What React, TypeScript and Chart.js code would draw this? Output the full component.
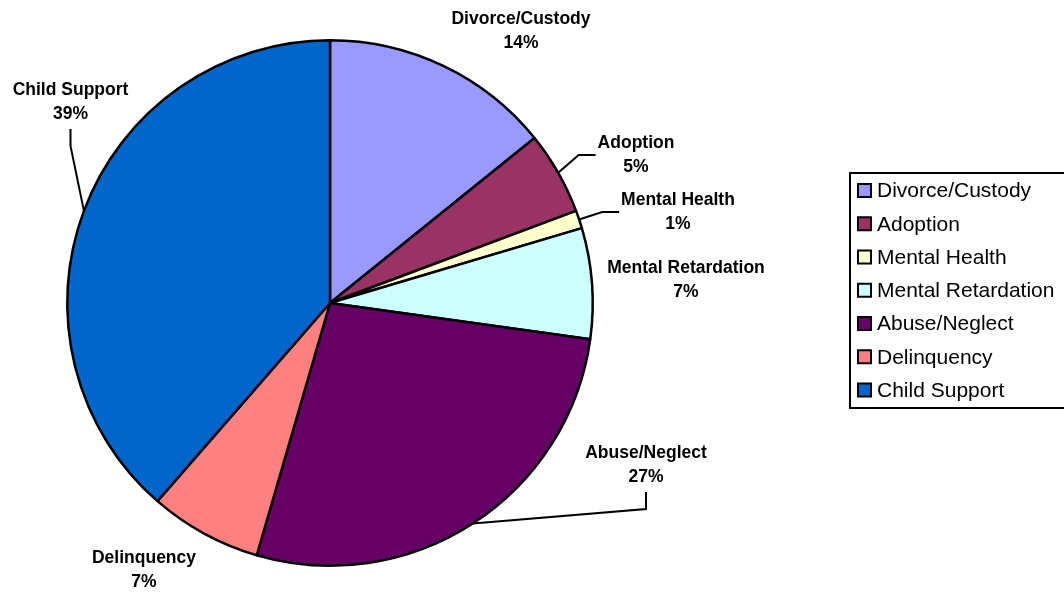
import React, { useEffect, useRef } from 'react';
import { Chart, registerables } from 'chart.js';

Chart.register(...registerables);

const categories = [
  'Divorce/Custody',
  'Adoption',
  'Mental Health',
  'Mental Retardation',
  'Abuse/Neglect',
  'Delinquency',
  'Child Support',
];
const values = [14.2, 5.1, 1.1, 6.8, 27.3, 6.9, 38.6];
const colors = ['#9999FF', '#993366', '#FFFFCC', '#CCFFFF', '#660066', '#FF8080', '#0066CC'];

// label block centre offsets from the pie centre, and leader style
const labelLayout = [
  { dx: 191, dy: -272, leader: null },
  { dx: 306, dy: -148, leader: 'left' },
  { dx: 348, dy: -91, leader: 'left' },
  { dx: 356, dy: -23, leader: null },
  { dx: 316, dy: 162, leader: 'bottom' },
  { dx: -186, dy: 267, leader: null },
  { dx: -259.5, dy: -201, leader: 'bottom' },
];

const FONT = '"Liberation Sans", Arial, sans-serif';

const labelPlugin = {
  id: 'sliceLabels',
  afterDatasetsDraw(chart: any) {
    const ctx = chart.ctx;
    const meta = chart.getDatasetMeta(0);
    const data = chart.data.datasets[0].data as number[];
    const total = data.reduce((a, b) => a + b, 0);
    ctx.save();
    ctx.font = `bold 17.5px ${FONT}`;
    ctx.fillStyle = '#000';
    ctx.textAlign = 'center';
    ctx.textBaseline = 'middle';
    meta.data.forEach((arc: any, i: number) => {
      const { x, y, startAngle, endAngle, outerRadius } = arc.getProps(
        ['x', 'y', 'startAngle', 'endAngle', 'outerRadius'],
        true
      );
      const lay = labelLayout[i];
      const cx = x + lay.dx;
      const cy = y + lay.dy;
      const name = chart.data.labels[i] as string;
      const pct = Math.round((data[i] / total) * 100) + '%';
      ctx.fillText(name, cx, cy - 12);
      ctx.fillText(pct, cx, cy + 12);
      if (lay.leader) {
        const mid = (startAngle + endAngle) / 2;
        const ex = x + Math.cos(mid) * outerRadius;
        const ey = y + Math.sin(mid) * outerRadius;
        let endX: number, endY: number, elbX: number, elbY: number;
        if (lay.leader === 'left') {
          const w = ctx.measureText(name).width;
          endX = cx - w / 2 - 2;
          endY = cy;
          elbX = endX - 17;
          elbY = endY;
        } else {
          endX = cx;
          endY = cy + 27;
          elbX = endX;
          elbY = endY + 17;
        }
        ctx.beginPath();
        ctx.strokeStyle = '#000';
        ctx.lineWidth = 2;
        ctx.moveTo(ex, ey);
        ctx.lineTo(elbX, elbY);
        ctx.lineTo(endX, endY);
        ctx.stroke();
      }
    });
    ctx.restore();
  },
};

const legendPlugin = {
  id: 'boxLegend',
  afterDraw(chart: any) {
    const ctx = chart.ctx;
    const labels = chart.data.labels as string[];
    const bg = chart.data.datasets[0].backgroundColor as string[];
    const left = 850;
    const top = 173;
    const height = 235;
    ctx.save();
    ctx.lineWidth = 2;
    ctx.strokeStyle = '#000';
    ctx.strokeRect(left, top, 260, height);
    ctx.font = `21px ${FONT}`;
    ctx.textBaseline = 'middle';
    ctx.textAlign = 'left';
    const step = 33.25;
    labels.forEach((lab, i) => {
      const cy = 190.5 + i * step;
      ctx.fillStyle = bg[i];
      ctx.fillRect(858, cy - 6.5, 13, 13);
      ctx.lineWidth = 2;
      ctx.strokeStyle = '#000';
      ctx.strokeRect(858, cy - 6.5, 13, 13);
      ctx.fillStyle = '#000';
      ctx.fillText(lab, 877, cy + 1);
    });
    ctx.restore();
  },
};

export default function App() {
  const ref = useRef<HTMLCanvasElement>(null);
  useEffect(() => {
    document.body.style.margin = '0';
    const chart = new Chart(ref.current as HTMLCanvasElement, {
      type: 'pie',
      data: {
        labels: categories,
        datasets: [
          {
            data: values,
            backgroundColor: colors,
            borderColor: '#000',
            borderWidth: 2.5,
          },
        ],
      },
      options: {
        animation: false,
        responsive: false,
        layout: { padding: { left: 66, right: 470, top: 39, bottom: 25 } },
        plugins: {
          legend: { display: false },
          tooltip: { enabled: false },
        },
      },
      plugins: [labelPlugin, legendPlugin],
    });
    return () => chart.destroy();
  }, []);
  return (
    <div style={{ position: 'fixed', left: 0, top: 0, width: 1064, height: 592, background: '#fff' }}>
      <canvas ref={ref} width={1064} height={592} style={{ display: 'block' }} />
    </div>
  );
}
